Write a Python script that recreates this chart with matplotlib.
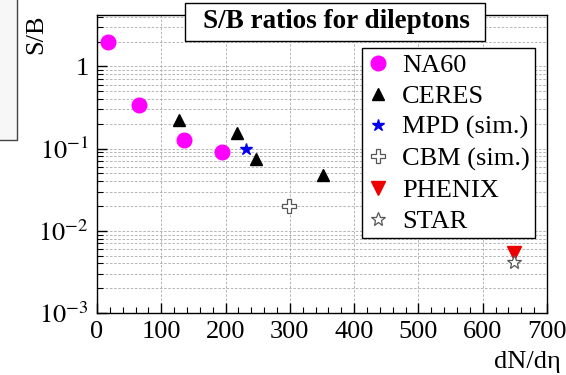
import matplotlib
matplotlib.use('Agg')
import matplotlib.pyplot as plt
from matplotlib.patches import Rectangle
from matplotlib.ticker import FixedLocator, FixedFormatter, LogLocator, MultipleLocator, NullFormatter

plt.rcParams['font.family'] = ['Liberation Serif', 'DejaVu Serif']
plt.rcParams['mathtext.fontset'] = 'stix'

# S/B ratios
na60_x = [17, 65, 136, 195]
na60_y = [2.0, 0.34, 0.126, 0.090]
ceres_x = [127, 218, 248, 352]
ceres_y = [0.225, 0.155, 0.074, 0.047]
mpd_x = [231]
mpd_y = [0.100]
cbm_x = [299]
cbm_y = [0.020]
phenix_x = [648]
phenix_y = [0.0054]
star_x = [648]
star_y = [0.0042]

ytick_vals = [1e-3, 1e-2, 1e-1, 1]
ytick_labels = ['$10^{-3}$', '$10^{-2}$', '$10^{-1}$', '1']

fig = plt.figure(figsize=(5.66, 3.75), dpi=100)
ax = fig.add_axes([97 / 566, 1 - 313 / 375, 450 / 566, 298 / 375])

# fragment of the neighbouring panel on the left
fig.patches.append(Rectangle((-0.01, 1 - 140 / 375), 17 / 566 + 0.01, 140 / 375 + 0.01,
                             transform=fig.transFigure, facecolor='#f7f7f7',
                             edgecolor='#444444', linewidth=1.0))

ax.plot(na60_x, na60_y, 'o', color='#ff00ff', markersize=10.5, label='NA60', zorder=5)
ax.plot(ceres_x, ceres_y, '^', color='black', markersize=8.5, label='CERES', zorder=5)
ax.plot(mpd_x, mpd_y, '*', color='#0000ee', markersize=9, label='MPD (sim.)', zorder=5)
ax.plot(cbm_x, cbm_y, 'P', markerfacecolor='white', markeredgecolor='#555555',
        markeredgewidth=0.9, markersize=10, linestyle='none', label='CBM (sim.)', zorder=5)
ax.plot(phenix_x, phenix_y, 'v', color='#ee0000', markersize=10, label='PHENIX', zorder=5)
ax.plot(star_x, star_y, '*', markerfacecolor='white', markeredgecolor='#555555',
        markeredgewidth=0.9, markersize=10, linestyle='none', label='STAR', zorder=6)

ax.set_yscale('log')
ax.set_xlim(0, 700)
ax.set_ylim(1e-3, 4.2)

ax.xaxis.set_major_locator(MultipleLocator(100))
ax.xaxis.set_minor_locator(MultipleLocator(20))
ax.yaxis.set_major_locator(FixedLocator(ytick_vals))
ax.yaxis.set_major_formatter(FixedFormatter(ytick_labels))
ax.yaxis.set_minor_locator(LogLocator(base=10, subs=range(2, 10)))
ax.yaxis.set_minor_formatter(NullFormatter())

ax.tick_params(which='both', direction='in', top=False, right=False, labelsize=19, pad=6)
ax.tick_params(which='major', length=7, width=1)
ax.tick_params(which='minor', length=4, width=0.8)

ax.grid(True, which='major', axis='x', linestyle=(0, (3, 2)), color='#aaaaaa', linewidth=0.6)
ax.grid(True, which='both', axis='y', linestyle=(0, (3, 2)), color='#aaaaaa', linewidth=0.6)
for sp in ax.spines.values():
    sp.set_linewidth(1.0)

ax.set_ylabel('S/B', fontsize=19, rotation=90, ha='right', va='center')
ax.yaxis.set_label_coords(-0.135, 1.0)
ax.set_xlabel('dN/dη', fontsize=19, ha='right', va='center')
ax.xaxis.set_label_coords(1.03, -0.165)

leg = ax.legend(loc='upper right', bbox_to_anchor=(535 / 566, 1 - 48 / 375),
                bbox_transform=fig.transFigure, borderaxespad=0, fontsize=19,
                frameon=True, fancybox=False, framealpha=1, edgecolor='black',
                handlelength=0.8, handletextpad=0.5, labelspacing=0.29,
                borderpad=0.2, numpoints=1)
leg.get_frame().set_linewidth(1.0)

# title box
fig.patches.append(Rectangle((185 / 566, 1 - 41 / 375), 300 / 566, 38 / 375,
                             transform=fig.transFigure, facecolor='white',
                             edgecolor='black', linewidth=1.0, zorder=10))
fig.text(336 / 566, 1 - 22 / 375, 'S/B ratios for dileptons', fontsize=19.5,
         fontweight='bold', ha='center', va='center', zorder=11)

plt.savefig('out.png', dpi=100)
plt.close()
